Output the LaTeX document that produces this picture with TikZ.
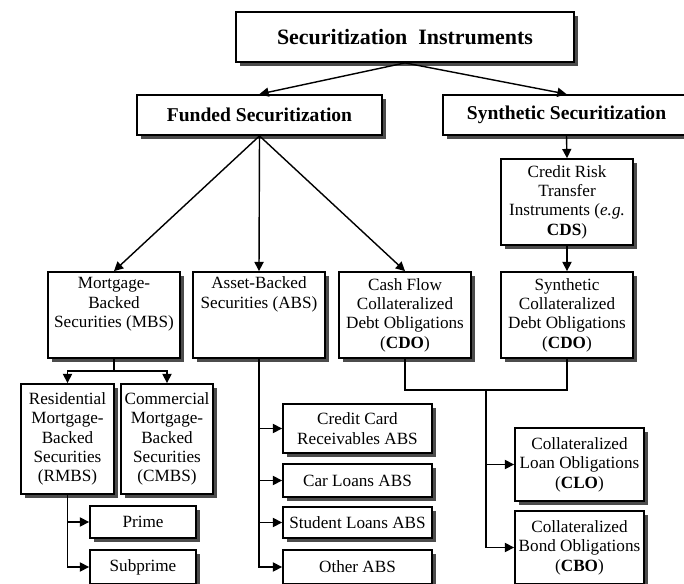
\documentclass[tikz,border=0pt]{standalone}
\usepackage{fontspec}
\setmainfont{Liberation Serif}
\usepackage{tikz}
\usetikzlibrary{arrows.meta,positioning,shadows}

\begin{document}
\begin{tikzpicture}[x=0.025cm, y=-0.025cm,
  instbox/.style={draw=black, line width=1.3pt, fill=white,
    drop shadow={shadow xshift=2.6pt, shadow yshift=-2.6pt, fill=black!70, opacity=1},
    inner sep=1pt, align=center, font=\fontsize{12.2}{13.8}\selectfont},
  headbox/.style={instbox, font=\fontsize{13.9}{16}\selectfont\bfseries},
  arr/.style={-{Triangle[length=6.5pt,width=6.5pt]}, line width=1pt},
  link/.style={line width=1pt}]

\useasboundingbox (0,0) rectangle (684,584);

\node[headbox, minimum width=338*0.025cm, minimum height=50*0.025cm,
  font=\fontsize{15.6}{18}\selectfont\bfseries] (top) at (405,37) {Securitization\ \ Instruments};
\node[headbox, minimum width=245*0.025cm, minimum height=40*0.025cm] (funded) at (259.5,115) {Funded Securitization};
\node[headbox, minimum width=247*0.025cm, minimum height=40*0.025cm] (synth) at (566.5,115) {Synthetic Securitization};

\draw[arr] (top.south) -- (funded.north);
\draw[arr] (top.south) -- (synth.north);

% funded branch
\node[instbox, minimum width=132*0.025cm, minimum height=86*0.025cm] (mbs) at (114,315) {Mortgage-\\Backed\\Securities (MBS)\\\strut};
\node[instbox, minimum width=132*0.025cm, minimum height=86*0.025cm] (abs) at (259,315) {Asset-Backed\\Securities (ABS)\\\strut\\\strut};
\node[instbox, minimum width=132*0.025cm, minimum height=86*0.025cm] (cfcdo) at (405,315) {Cash Flow\\Collateralized\\Debt Obligations\\(\textbf{CDO})};

\draw[arr] (funded.south) -- (mbs.north);
\draw[arr] (funded.south) -- (abs.north);
\draw[arr] (funded.south) -- (cfcdo.north);

% synthetic branch
\node[instbox, minimum width=132*0.025cm, minimum height=86*0.025cm] (crt) at (567,202) {Credit Risk\\Transfer\\Instruments (\textit{e.g.}\\\textbf{CDS})};
\node[instbox, minimum width=132*0.025cm, minimum height=86*0.025cm] (syncdo) at (567,315) {Synthetic\\Collateralized\\Debt Obligations\\(\textbf{CDO})};

\draw[arr] (synth.south) -- (crt.north);
\draw[arr] (crt.south) -- (syncdo.north);

% mortgage-backed
\node[instbox, minimum width=93*0.025cm, minimum height=110*0.025cm] (rmbs) at (67.5,439) {Residential\\Mortgage-\\Backed\\Securities\\(RMBS)};
\node[instbox, minimum width=92*0.025cm, minimum height=110*0.025cm] (cmbs) at (167,439) {Commercial\\Mortgage-\\Backed\\Securities\\(CMBS)};
\node[instbox, minimum width=106*0.025cm, minimum height=32*0.025cm] (prime) at (143,522) {Prime};
\node[instbox, minimum width=106*0.025cm, minimum height=34*0.025cm] (subprime) at (143,567) {Subprime};

\draw[link] (mbs.south) -- ++(0,12) coordinate (mbsjoin);
\draw[arr] (mbsjoin) -| (rmbs.north);
\draw[arr] (mbsjoin) -| (cmbs.north);
\draw[arr] (rmbs.south) |- (prime.west);
\draw[arr] (rmbs.south) |- (subprime.west);

% asset-backed
\node[instbox, minimum width=149*0.025cm, minimum height=49*0.025cm] (ccard) at (357.5,428.5) {Credit Card\\Receivables ABS};
\node[instbox, minimum width=149*0.025cm, minimum height=33*0.025cm] (car) at (357.5,480.5) {Car Loans ABS};
\node[instbox, minimum width=149*0.025cm, minimum height=31*0.025cm] (student) at (357.5,522.5) {Student Loans ABS};
\node[instbox, minimum width=149*0.025cm, minimum height=34*0.025cm] (other) at (357.5,567) {Other ABS};

\draw[arr] (abs.south) |- (ccard.west);
\draw[arr] (abs.south) |- (car.west);
\draw[arr] (abs.south) |- (student.west);
\draw[arr] (abs.south) |- (other.west);

% CDO types
\node[instbox, minimum width=129*0.025cm, minimum height=73*0.025cm] (clo) at (579.5,464.5) {Collateralized\\Loan Obligations\\(\textbf{CLO})};
\node[instbox, minimum width=129*0.025cm, minimum height=73*0.025cm] (cbo) at (579.5,547.5) {Collateralized\\Bond Obligations\\(\textbf{CBO})};

\draw[link] (cfcdo.south) -- ++(0,31) -| (syncdo.south);
\coordinate (cdojoin) at (486,389);
\draw[arr] (cdojoin) |- (clo.west);
\draw[arr] (cdojoin) |- (cbo.west);

\end{tikzpicture}
\end{document}
